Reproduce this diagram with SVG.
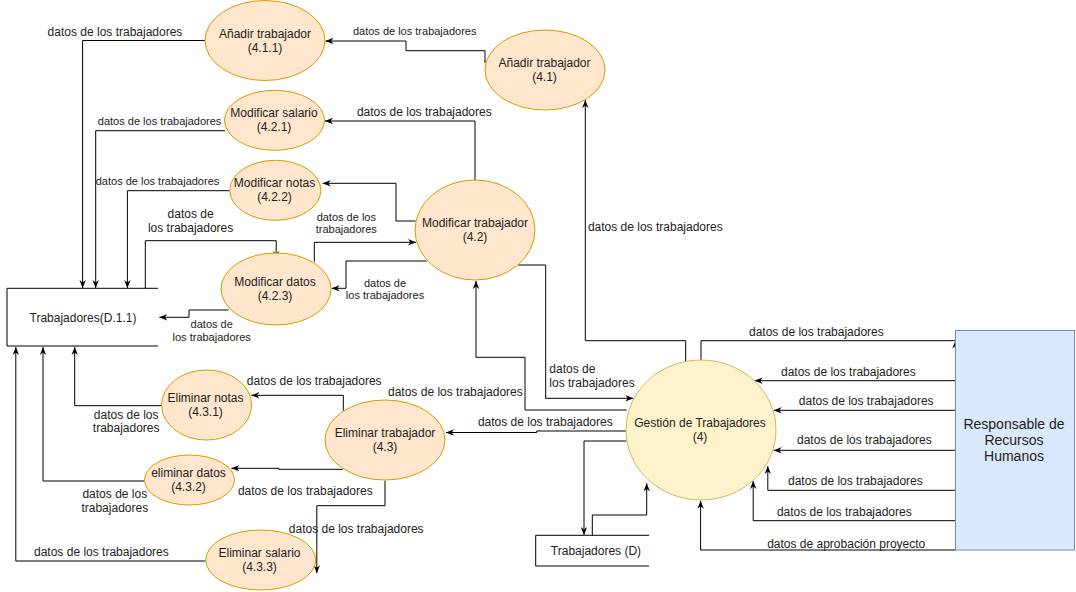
<svg xmlns="http://www.w3.org/2000/svg" width="1076" height="592" viewBox="0 0 1076 592">
<defs>
<marker id="a" viewBox="0 0 10 10" refX="10" refY="5" markerWidth="8" markerHeight="8" markerUnits="userSpaceOnUse" orient="auto">
<path d="M0,1 L10,5 L0,9 L3,5 z" fill="#000"/>
</marker>
<style>
.n{fill:#ffe6cc;stroke:#d79b00;stroke-width:1}
.g{fill:#fff2cc;stroke:#d6b656;stroke-width:1}
.e{fill:#dae8fc;stroke:#6c8ebf;stroke-width:1}
.t{font-family:"Liberation Sans",Arial,sans-serif;font-size:12px;fill:#222;text-anchor:middle}
.s{font-size:11px}
.l{text-anchor:start}
.b{font-size:14px}
.c{fill:none;stroke:#000;stroke-width:1;marker-end:url(#a)}
.st{fill:none;stroke:#000;stroke-width:1}
</style>
</defs>
<rect width="1076" height="592" fill="#fff"/>

<g id="connectors">
<path class="c" d="M205,40.5 H82.6 V288"/>
<path class="c" d="M485,63 V50.7 H406 V41 H325.5"/>
<path class="c" d="M475,180 V121 H325"/>
<path class="c" d="M225,130.7 H95.7 V288"/>
<path class="c" d="M415.6,221 H396 V183.3 H322.7"/>
<path class="c" d="M229.7,190.7 H127.4 V288"/>
<path class="c" d="M145.3,288.3 V240.7 H276.2 V259"/>
<path class="c" d="M314.3,261.7 V242.3 H416"/>
<path class="c" d="M426.7,261 H346 V288.3 H331.7"/>
<path class="c" d="M228.7,310 H189 V317.3 H159.3"/>
<path class="c" d="M626.7,410 H525 V357.3 H476 V281"/>
<path class="c" d="M518.3,265 H545.7 V398.3 H633.3"/>
<path class="c" d="M685.7,361 V340.7 H585.3 V100"/>
<path class="c" d="M701,360 V340.7 H955.5 M955.5,348 V340.5"/>
<path class="c" d="M955.5,380.7 H754.6"/>
<path class="c" d="M955.5,410.3 H773.7"/>
<path class="c" d="M955.5,450.3 H773.7"/>
<path class="c" d="M955.5,490.3 H767.8 V466"/>
<path class="c" d="M955.5,520.7 H753.2 V481"/>
<path class="c" d="M955.5,550 H700.6 V500.7"/>
<path class="c" d="M626.4,441 H584 V535"/>
<path class="c" d="M592.3,535.3 V515 H646.7 V483.3"/>
<path class="c" d="M626.7,431 H536.7 V432.5 H446"/>
<path class="c" d="M343.3,410.7 V395.3 H251.4"/>
<path class="c" d="M161.8,405.7 H74.7 V347"/>
<path class="c" d="M342.6,469.3 H279 V468.3 H231.4"/>
<path class="c" d="M144,481 H43 V347"/>
<path class="c" d="M385,480.7 V505.7 H316.8 V573.3"/>
<path class="c" d="M205.6,561 H15.8 V347"/>

<text class="t" x="115" y="35.7">datos de los trabajadores</text>
<text class="t s" x="414.7" y="34.8">datos de los trabajadores</text>
<text class="t" x="424.3" y="115.7">datos de los trabajadores</text>
<text class="t s" x="159.6" y="124.8">datos de los trabajadores</text>
<text class="t s" x="157.5" y="184.8">datos de los trabajadores</text>
<text class="t" x="190.6" y="217.7">datos de</text>
<text class="t" x="190.6" y="231.7">los trabajadores</text>
<text class="t s" x="346.3" y="220.5">datos de los</text>
<text class="t s" x="346.3" y="233">trabajadores</text>
<text class="t s" x="385" y="286.5">datos de</text>
<text class="t s" x="385" y="298.8">los trabajadores</text>
<text class="t s" x="211.7" y="328">datos de</text>
<text class="t s" x="211.7" y="341">los trabajadores</text>
<text class="t" x="455.4" y="396.3">datos de los trabajadores</text>
<text class="t l" x="549.3" y="373.3">datos de</text>
<text class="t l" x="549.3" y="387.3">los trabajadores</text>
<text class="t" x="655.3" y="230.7">datos de los trabajadores</text>
<text class="t" x="816.4" y="335.7">datos de los trabajadores</text>
<text class="t" x="848.4" y="375.7">datos de los trabajadores</text>
<text class="t" x="866.2" y="405.3">datos de los trabajadores</text>
<text class="t" x="864.4" y="443.7">datos de los trabajadores</text>
<text class="t" x="855.4" y="484.7">datos de los trabajadores</text>
<text class="t" x="844.3" y="515.7">datos de los trabajadores</text>
<text class="t" x="846.2" y="548.3">datos de aprobación proyecto</text>
<text class="t" x="545.3" y="426.3">datos de los trabajadores</text>
<text class="t" x="314.2" y="384.7">datos de los trabajadores</text>
<text class="t" x="126.2" y="419">datos de los</text>
<text class="t" x="126.2" y="432.3">trabajadores</text>
<text class="t" x="305.3" y="494.7">datos de los trabajadores</text>
<text class="t" x="114.8" y="498.3">datos de los</text>
<text class="t" x="114.8" y="512.3">trabajadores</text>
<text class="t" x="356.2" y="532.7">datos de los trabajadores</text>
<text class="t" x="101.4" y="555.7">datos de los trabajadores</text>
</g>

<g id="n411">
<ellipse class="n" cx="265" cy="40.5" rx="60" ry="40"/>
<text class="t" x="265" y="37.7">Añadir trabajador</text>
<text class="t" x="265" y="51.7">(4.1.1)</text>
</g>
<g id="n41">
<ellipse class="n" cx="545" cy="70" rx="60" ry="40"/>
<text class="t" x="544.5" y="66.5">Añadir trabajador</text>
<text class="t" x="544.5" y="80.5">(4.1)</text>
</g>
<g id="n421">
<ellipse class="n" cx="274.5" cy="120.3" rx="50" ry="30"/>
<text class="t" x="274" y="117">Modificar salario</text>
<text class="t" x="274" y="131">(4.2.1)</text>
</g>
<g id="n422">
<ellipse class="n" cx="275.3" cy="190.3" rx="45.5" ry="30"/>
<text class="t" x="274.5" y="187">Modificar notas</text>
<text class="t" x="274.5" y="201">(4.2.2)</text>
</g>
<g id="n423">
<ellipse class="n" cx="276" cy="289" rx="55" ry="36"/>
<text class="t" x="275" y="286">Modificar datos</text>
<text class="t" x="275" y="300">(4.2.3)</text>
</g>
<g id="n42">
<ellipse class="n" cx="475" cy="230" rx="60" ry="50"/>
<text class="t" x="475" y="227">Modificar trabajador</text>
<text class="t" x="475" y="241">(4.2)</text>
</g>
<g id="n4">
<ellipse class="g" cx="701" cy="430" rx="75" ry="70"/>
<text class="t" x="700" y="427">Gestión de Trabajadores</text>
<text class="t" x="700" y="441">(4)</text>
</g>
<g id="n43">
<ellipse class="n" cx="385" cy="440" rx="60" ry="40"/>
<text class="t" x="385" y="437">Eliminar trabajador</text>
<text class="t" x="385" y="451">(4.3)</text>
</g>
<g id="n431">
<ellipse class="n" cx="206.6" cy="405" rx="45" ry="35"/>
<text class="t" x="205.5" y="402">Eliminar notas</text>
<text class="t" x="205.5" y="416">(4.3.1)</text>
</g>
<g id="n432">
<ellipse class="n" cx="189.5" cy="480" rx="45" ry="25"/>
<text class="t" x="188.5" y="477">eliminar datos</text>
<text class="t" x="188.5" y="491">(4.3.2)</text>
</g>
<g id="n433">
<ellipse class="n" cx="260.7" cy="560" rx="55" ry="30"/>
<text class="t" x="259.5" y="557">Eliminar salario</text>
<text class="t" x="259.5" y="571">(4.3.3)</text>
</g>
<g id="storeD11">
<path class="st" d="M158,288.3 H7 V346 H158"/>
<text class="t" x="83" y="322">Trabajadores(D.1.1)</text>
</g>
<g id="storeD">
<path class="st" d="M649,535.3 H535.7 V566 H649"/>
<text class="t" x="596" y="555">Trabajadores (D)</text>
</g>
<g id="rrhh">
<rect class="e" x="955.5" y="330.5" width="119" height="219.5"/>
<text class="t b" x="1014" y="429">Responsable de</text>
<text class="t b" x="1014" y="445">Recursos</text>
<text class="t b" x="1014" y="461">Humanos</text>
</g>
</svg>
